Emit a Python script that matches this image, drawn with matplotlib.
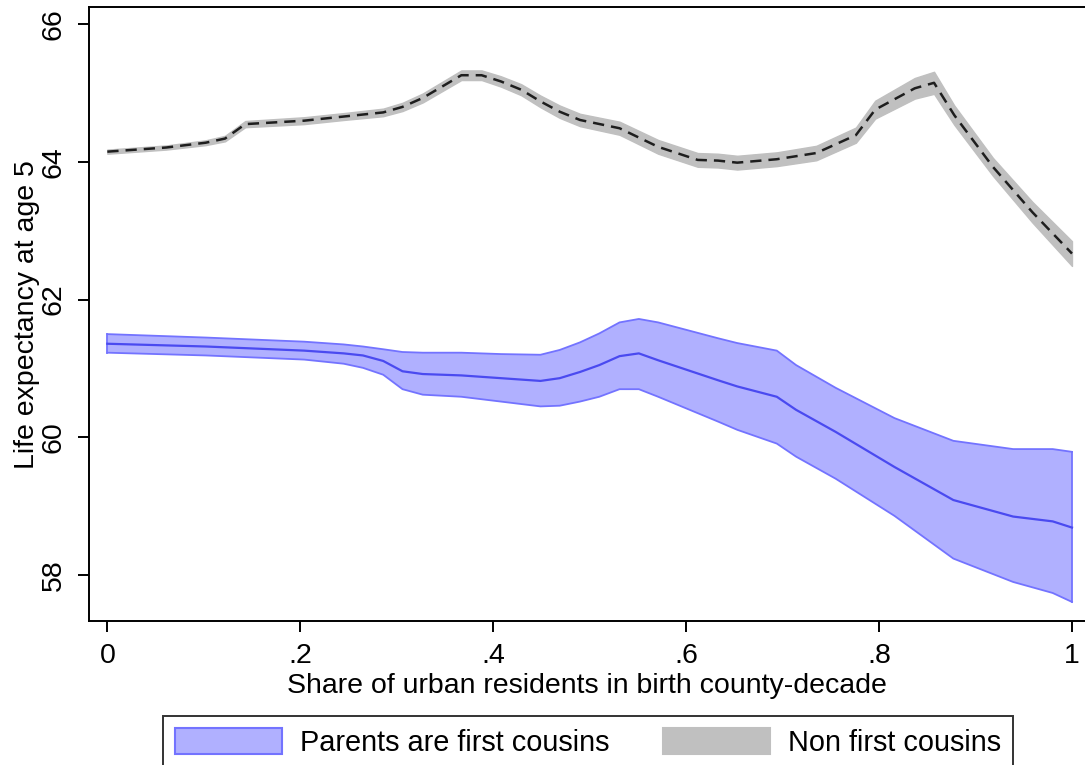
import matplotlib
matplotlib.use("Agg")
import matplotlib.pyplot as plt
from matplotlib.patches import Patch

plt.rcParams['font.family'] = ['Liberation Sans', 'DejaVu Sans']

# Non first cousins: fitted life expectancy and confidence margin
x_non = [0.000, 0.061, 0.102, 0.122, 0.143, 0.204, 0.245, 0.286, 0.306, 0.327,
         0.367, 0.388, 0.408, 0.429, 0.449, 0.469, 0.490, 0.531, 0.571, 0.612,
         0.633, 0.653, 0.694, 0.735, 0.776, 0.796, 0.837, 0.857, 0.878, 0.918,
         0.959, 1.000]
y_non = [64.15, 64.21, 64.28, 64.34, 64.55, 64.60, 64.66, 64.72, 64.80, 64.93,
         65.26, 65.26, 65.17, 65.05, 64.88, 64.73, 64.61, 64.49, 64.22, 64.03,
         64.02, 63.99, 64.04, 64.13, 64.39, 64.76, 65.07, 65.15, 64.68, 63.93,
         63.27, 62.67]
m_non = [0.03, 0.03, 0.035, 0.04, 0.045, 0.05, 0.05, 0.055, 0.06, 0.065,
         0.07, 0.07, 0.075, 0.08, 0.085, 0.09, 0.09, 0.095, 0.10, 0.10,
         0.10, 0.10, 0.10, 0.105, 0.11, 0.13, 0.15, 0.16, 0.14, 0.13,
         0.15, 0.18]

# Parents are first cousins: fitted life expectancy with lower/upper bounds
x_fc = [0.000, 0.102, 0.204, 0.245, 0.265, 0.286, 0.306, 0.327, 0.367, 0.408,
        0.449, 0.469, 0.490, 0.510, 0.531, 0.551, 0.571, 0.633, 0.653, 0.694,
        0.714, 0.755, 0.816, 0.877, 0.939, 0.980, 1.000]
y_fc = [61.36, 61.32, 61.26, 61.22, 61.19, 61.11, 60.96, 60.92, 60.90, 60.86,
        60.82, 60.86, 60.95, 61.05, 61.18, 61.22, 61.12, 60.83, 60.74, 60.59,
        60.40, 60.08, 59.57, 59.09, 58.85, 58.78, 58.69]
lo_fc = [61.23, 61.19, 61.13, 61.07, 61.01, 60.91, 60.70, 60.62, 60.59, 60.52,
         60.45, 60.46, 60.52, 60.59, 60.70, 60.70, 60.59, 60.23, 60.11, 59.91,
         59.72, 59.40, 58.86, 58.24, 57.90, 57.74, 57.61]
hi_fc = [61.50, 61.45, 61.39, 61.35, 61.32, 61.28, 61.24, 61.23, 61.23, 61.21,
         61.20, 61.27, 61.38, 61.51, 61.67, 61.72, 61.67, 61.44, 61.37, 61.26,
         61.05, 60.72, 60.28, 59.95, 59.83, 59.83, 59.79]

xticks = [0, 0.2, 0.4, 0.6, 0.8, 1.0]
xticklabels = ["0", ".2", ".4", ".6", ".8", "1"]
yticks = [58, 60, 62, 64, 66]

W, H = 1085, 765
fig = plt.figure(figsize=(W / 100, H / 100), dpi=100)
ax = fig.add_axes([89 / W, 1 - 621 / H, 996 / W, 614 / H])

blue_fill = "#b0b0ff"
blue_edge = "#7373ff"
blue_line = "#4a4af0"
grey_fill = "#c0c0c0"

# first-cousin band and fit
ax.fill_between(x_fc, lo_fc, hi_fc, facecolor=blue_fill, edgecolor="none", zorder=1)
ax.plot(x_fc, lo_fc, color=blue_edge, lw=1.3, zorder=2)
ax.plot(x_fc, hi_fc, color=blue_edge, lw=1.3, zorder=2)
ax.plot([x_fc[-1], x_fc[-1]], [lo_fc[-1], hi_fc[-1]], color=blue_edge, lw=1.3, zorder=2)
ax.plot([x_fc[0], x_fc[0]], [lo_fc[0], hi_fc[0]], color=blue_edge, lw=1.3, zorder=2)
ax.plot(x_fc, y_fc, color=blue_line, lw=1.6, zorder=3)

# non-first-cousin band and dashed fit
lo_non = [y - m for y, m in zip(y_non, m_non)]
hi_non = [y + m for y, m in zip(y_non, m_non)]
ax.fill_between(x_non, lo_non, hi_non, facecolor=grey_fill, edgecolor=grey_fill,
                lw=1.0, zorder=1)
ax.plot(x_non, y_non, color="#1e1e1e", lw=1.8, dashes=(4.5, 2.8), zorder=3)

ax.set_xlim(-0.019, 1.0135)
ax.set_ylim(57.333, 66.251)
ax.set_xticks(xticks)
ax.set_xticklabels(xticklabels)
ax.set_yticks(yticks)
ax.set_yticklabels([str(v) for v in yticks], rotation=90, va="center")

for s in ["left", "bottom", "top"]:
    ax.spines[s].set_linewidth(1.4)
    ax.spines[s].set_color("black")
ax.spines["right"].set_visible(False)
ax.tick_params(axis="both", direction="out", length=8, width=1.4, labelsize=20.5,
               color="black")
ax.tick_params(axis="x", pad=8)
ax.tick_params(axis="y", pad=8)

ax.set_xlabel("Share of urban residents in birth county-decade", fontsize=20.5,
              labelpad=3)
fig.text(27 / W, 1 - 315 / H, "Life expectancy at age 5", rotation=90,
         fontsize=20.5, ha="center", va="center")

handles = [Patch(facecolor=blue_fill, edgecolor=blue_edge, lw=1.5),
           Patch(facecolor=grey_fill, edgecolor=grey_fill, lw=1.5)]
leg = fig.legend(handles, ["Parents are first cousins", "Non first cousins"],
                 loc="upper left", bbox_to_anchor=(163 / W, 1 - 716 / H),
                 ncol=2, fontsize=20.8, frameon=True, fancybox=False,
                 handlelength=3.7, handleheight=1.0, handletextpad=0.62,
                 columnspacing=1.85, borderpad=0.42, borderaxespad=0)
leg.get_frame().set_edgecolor("black")
leg.get_frame().set_linewidth(1.4)

fig.savefig("out.png", dpi=100)
